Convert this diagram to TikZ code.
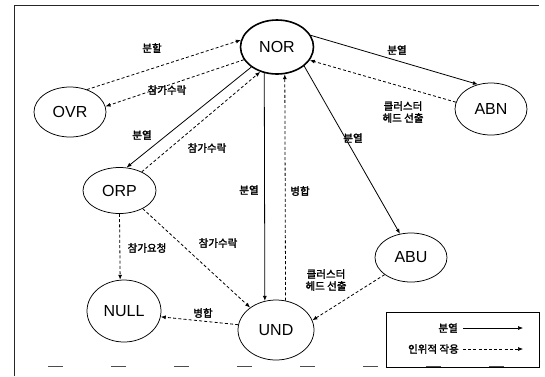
\documentclass[tikz,border=0pt]{standalone}
\usepackage{fontspec}
\setmainfont{Liberation Sans}
\newfontfamily\kr[FakeBold=2]{Noto Sans CJK KR}
\usetikzlibrary{arrows.meta,shapes.geometric}
\begin{document}
\begin{tikzpicture}[x=1pt,y=-1pt,
 st/.style={draw,ellipse,line width=0.75pt,inner sep=0pt,font=\fontsize{16}{16}\selectfont},
 lbl/.style={font=\kr\fontsize{10.5}{12}\selectfont,align=center,inner sep=1pt},
 tip/.style={-{Latex[length=5pt,width=4pt]}},
 solidarr/.style={tip,line width=0.8pt},
 dasharr/.style={tip,line width=0.8pt,dash pattern=on 3pt off 2.2pt}]
\useasboundingbox (0,0) rectangle (545,376);
% frame
\draw[line width=1pt,black!85] (14,376) -- (14,5) -- (539,5);
\draw[line width=1pt,black!70,dash pattern=on 15pt off 48pt] (48,366) -- (540,366);
% states
\node[st,line width=1.6pt,minimum width=73pt,minimum height=54pt] (NOR) at (277,47) {NOR};
\node[st,minimum width=72pt,minimum height=50pt] (OVR) at (70,112) {OVR};
\node[st,minimum width=72pt,minimum height=52pt] (ABN) at (491,109) {ABN};
\node[st,minimum width=73pt,minimum height=46pt] (ORP) at (119.5,190.5) {ORP};
\node[st,minimum width=74pt,minimum height=62pt] (NULL) at (124,311) {NULL};
\node[st,minimum width=76pt,minimum height=60pt] (UND) at (276,330) {UND};
\node[st,minimum width=72pt,minimum height=49pt] (ABU) at (411,257.5) {ABU};
% transitions
\draw[dasharr] (OVR.53) -- (NOR.169);
\draw[dasharr] (NOR.201) -- (OVR.9);
\draw[solidarr] (NOR.218) -- (ORP.73);
\draw[dasharr] (ORP.40) -- (NOR.236);
\draw[solidarr] (NOR.19) -- (ABN.118);
\draw[dasharr] (ABN.169) -- (NOR.338);
\draw[solidarr] (NOR.325) -- (ABU.115);
\draw[solidarr] (NOR.244.8) -- (UND.111);
\draw[dasharr] (UND.72.8) -- (NOR.286.9);
\draw[dasharr] (ORP.270) -- (NULL.97.4);
\draw[dasharr] (ORP.322.7) -- (UND.139.8);
\draw[dasharr] (UND.172) -- (NULL.351);
\draw[dasharr] (ABU.213.5) -- (UND.15);
% labels
\node[lbl] (t1) at (152,48) {분할};
\node[lbl] (t2) at (167,90) {참가수락};
\node[lbl] (t3) at (142,135) {분열};
\node[lbl] (t4) at (207,148) {참가수락};
\node[lbl] (t5) at (397,50) {분열};
\node[lbl] (t6) at (403,112) {클러스터\\헤드 선출};
\node[lbl] (t7) at (353,138) {분열};
\node[lbl] (t8) at (249,190) {분열};
\node[lbl] (t9) at (300,191) {병합};
\node[lbl] (t10) at (147,248) {참가요청};
\node[lbl] (t11) at (218,243) {참가수락};
\node[lbl] (t12) at (203,313) {병합};
\node[lbl] (t13) at (326,280) {클러스터\\헤드 선출};
% legend
\node[draw,line width=0.7pt,minimum width=153pt,minimum height=55pt,inner sep=0pt,anchor=north west] (leg) at (386,312) {};
\node[lbl,anchor=east] (lg1) at (459,328) {분열};
\node[lbl,anchor=east] (lg2) at (460,349) {인위적 작용};
\coordinate (a1s) at (463,328);
\coordinate (a1e) at (523,328);
\coordinate (a2s) at (463,349);
\coordinate (a2e) at (523,349);
\draw[solidarr,line width=0.6pt] (a1s) -- (a1e);
\draw[dasharr,line width=0.6pt] (a2s) -- (a2e);
\end{tikzpicture}
\end{document}
